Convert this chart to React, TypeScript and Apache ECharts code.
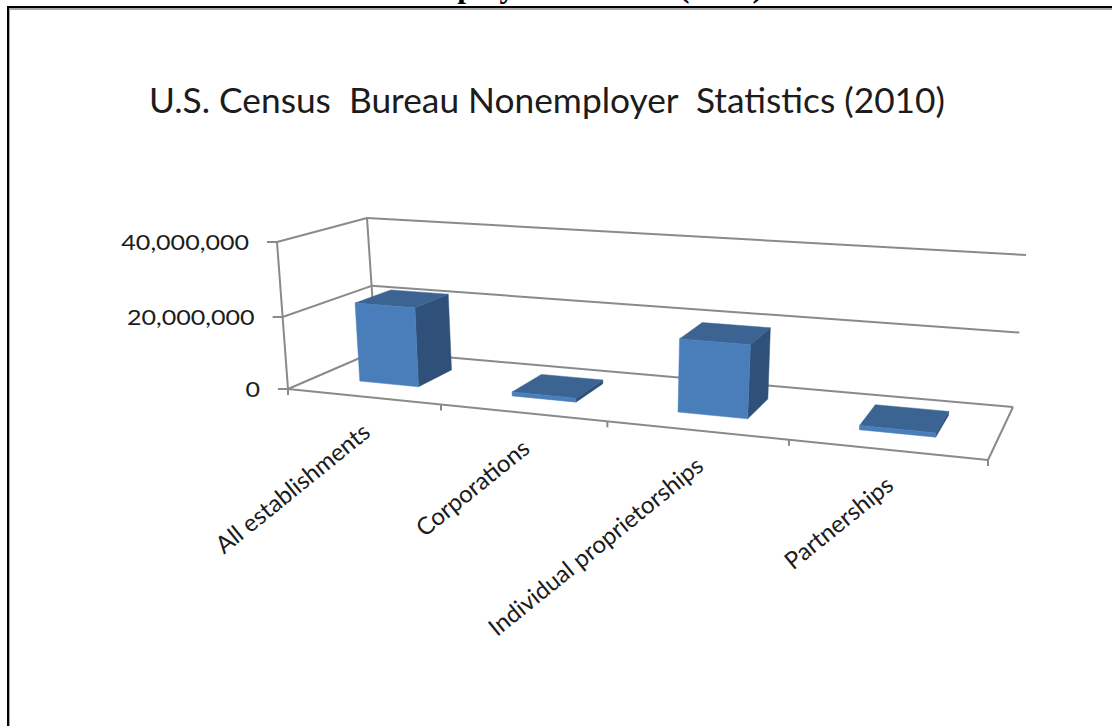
import React, { useEffect, useRef } from "react";
import * as echarts from "echarts";

const TITLE = "U.S. Census  Bureau Nonemployer  Statistics (2010)";
const HEADER = "Nonemployer Statistics (2010)";
const categories = ["All establishments", "Corporations", "Individual proprietorships", "Partnerships"];
const establishments = [22100000, 1100000, 19500000, 1100000];
const yTicks = [0, 20000000, 40000000];

const LINE = "#8a8a8a";
const FRONT = "#4a7ebb";
const TOP = "#3b6492";
const SIDE = "#2f5079";
const TEXT = "#1c1c1c";
const FONT = "Lato";

type P = [number, number];
// Corners of the 3D box on screen: front/back, bottom/top, left/right
const FBL: P = [288, 389], FBR: P = [988, 460], BBL: P = [376, 351], BBR: P = [1013, 407];
const FTL: P = [277, 242], FTR: P = [1004, 292], BTL: P = [367, 218], BTR: P = [1026, 255];
const lerp = (a: P, b: P, t: number): P => [a[0] + (b[0] - a[0]) * t, a[1] + (b[1] - a[1]) * t];
const persp = (t: number, a: number) => (a * t) / (1 + (a - 1) * t);
function project(u: number, v: number, d: number): P {
  const uu = persp(u, 0.839);
  const vv = persp(v, 0.96);
  const bottom = lerp(lerp(FBL, FBR, uu), lerp(BBL, BBR, uu), d);
  const top = lerp(lerp(FTL, FTR, uu), lerp(BTL, BTR, uu), d);
  return lerp(bottom, top, vv);
}
const seg = (a: P, b: P) => ({
  type: "line",
  shape: { x1: a[0], y1: a[1], x2: b[0], y2: b[1] },
  style: { stroke: LINE, lineWidth: 2 },
});
const poly = (pts: P[], fill: string) => ({
  type: "polygon",
  shape: { points: pts },
  style: { fill, stroke: fill, lineWidth: 0.5 },
});

const DEPTH_FRONT = 0.32;
const DEPTH_BACK = 0.74;
const BAR_SHARE = 0.395;

export default function App() {
  const ref = useRef<HTMLDivElement>(null);
  useEffect(() => {
    document.body.style.margin = "0";
    const chart = echarts.init(ref.current!, null, { renderer: "svg" });
    const frac = (params: any, api: any, cat: number, val: number): P => {
      const cs = params.coordSys;
      const c = api.coord([cat, val]);
      return [(c[0] - cs.x) / cs.width, (cs.y + cs.height - c[1]) / cs.height];
    };
    chart.setOption({
      animation: false,
      backgroundColor: "#fff",
      title: {
        text: TITLE,
        left: 144,
        top: 77,
        textStyle: { fontFamily: FONT, fontSize: 35.3, fontWeight: "normal", color: TEXT },
      },
      grid: { left: 288, top: 242, width: 700, height: 147 },
      xAxis: { type: "category", data: categories, show: false },
      yAxis: { type: "value", min: 0, max: 40000000, interval: 20000000, show: false },
      graphic: [
        {
          type: "text",
          x: 763,
          y: -30,
          style: {
            text: HEADER,
            fontFamily: "Liberation Serif",
            fontWeight: "bold",
            fontSize: 31.5,
            fill: "#000",
            align: "right",
          },
        },
        { type: "rect", shape: { x: 7, y: 6, width: 1105, height: 2 }, style: { fill: "#000" } },
        { type: "rect", shape: { x: 9, y: 8, width: 1103, height: 2 }, style: { fill: "#a6a6a6" } },
        { type: "rect", shape: { x: 7, y: 6, width: 2, height: 720 }, style: { fill: "#000" } },
        { type: "rect", shape: { x: 9, y: 8, width: 1, height: 718 }, style: { fill: "#a6a6a6" } },
      ],
      series: [
        {
          type: "custom",
          name: "frame",
          coordinateSystem: "cartesian2d",
          data: yTicks.map((t) => [0, t]),
          encode: { x: 0, y: 1 },
          silent: true,
          z: 1,
          renderItem: (params: any, api: any) => {
            const value = api.value(1);
            const [, v] = frac(params, api, 0, value);
            const a = project(0, v, 0), b = project(0, v, 1), c = project(1, v, 1);
            const children: any[] = [seg(a, b), seg(b, c), seg([a[0] - 10, a[1]], a)];
            if (params.dataIndex === 0) {
              children.push(seg(project(0, 0, 0), project(1, 0, 0)));
              children.push(seg(project(1, 0, 0), project(1, 0, 1)));
              children.push(seg(project(0, 0, 0), project(0, 1, 0)));
              children.push(seg(project(0, 0, 1), project(0, 1, 1)));
              categories.forEach((_, k) => {
                const u = k / categories.length;
                const q = project(u, 0, 0);
                children.push(seg(q, [q[0], q[1] + 6]));
              });
              const q = project(1, 0, 0);
              children.push(seg(q, [q[0], q[1] + 6]));
            }
            return { type: "group", children };
          },
        },
        {
          type: "custom",
          name: "Establishments",
          coordinateSystem: "cartesian2d",
          data: establishments.map((v, i) => [i, v]),
          encode: { x: 0, y: 1 },
          z: 2,
          renderItem: (params: any, api: any) => {
            const i = api.value(0);
            const [uc, v] = frac(params, api, i, api.value(1));
            const half = (api.size([1, 0])[0] * BAR_SHARE) / 2 / params.coordSys.width;
            const u0 = uc - half, u1 = uc + half;
            const d0 = DEPTH_FRONT, d1 = DEPTH_BACK;
            const fbl = project(u0, 0, d0), fbr = project(u1, 0, d0);
            const ftl = project(u0, v, d0), ftr = project(u1, v, d0);
            const bbr = project(u1, 0, d1), btl = project(u0, v, d1), btr = project(u1, v, d1);
            return {
              type: "group",
              children: [
                poly([fbr, bbr, btr, ftr], SIDE),
                poly([ftl, ftr, btr, btl], TOP),
                poly([fbl, fbr, ftr, ftl], FRONT),
              ],
            };
          },
        },
        {
          type: "custom",
          name: "yLabels",
          coordinateSystem: "cartesian2d",
          data: yTicks.map((t) => [0, t]),
          encode: { x: 0, y: 1 },
          silent: true,
          z: 3,
          renderItem: (params: any, api: any) => {
            const value = api.value(1);
            const [, v] = frac(params, api, 0, value);
            const a = project(0, v, 0);
            return {
              type: "text",
              x: a[0] - 28,
              y: a[1],
              scaleX: 1.14,
              style: {
                text: value.toLocaleString("en-US"),
                fontFamily: FONT,
                fontSize: 22,
                fill: TEXT,
                align: "right",
                verticalAlign: "middle",
              },
            };
          },
        },
        {
          type: "custom",
          name: "xLabels",
          coordinateSystem: "cartesian2d",
          data: categories.map((_, i) => [i, 0]),
          encode: { x: 0, y: 1 },
          silent: true,
          z: 3,
          renderItem: (params: any, api: any) => {
            const i = api.value(0);
            const [u] = frac(params, api, i, 0);
            const a = project(u, 0, 0);
            return {
              type: "text",
              x: a[0] + 3,
              y: a[1] + 31,
              rotation: (39 * Math.PI) / 180,
              style: {
                text: categories[i],
                fontFamily: FONT,
                fontSize: 24,
                fill: TEXT,
                align: "right",
                verticalAlign: "middle",
              },
            };
          },
        },
      ],
    });
    return () => chart.dispose();
  }, []);
  return <div ref={ref} style={{ width: 1112, height: 726 }} />;
}
